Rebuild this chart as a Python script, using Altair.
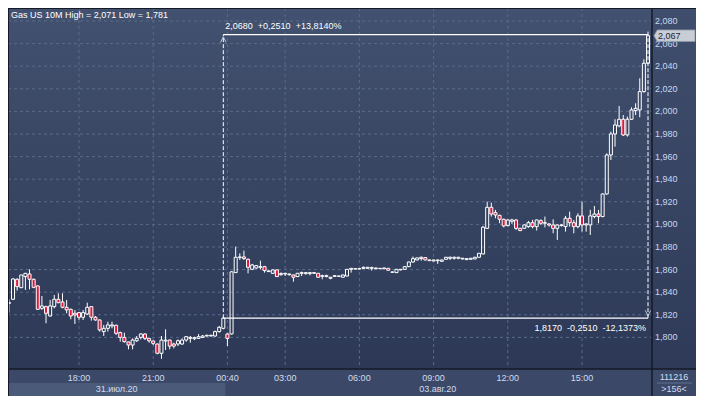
import altair as alt
import pandas as pd

# ---------------- data (10-minute candles, index based x axis) ----------------
opens = [1.8300, 1.8337, 1.8514, 1.8440, 1.8538, 1.8561, 1.8514, 1.8455, 1.8257, 1.8272,
         1.8189, 1.8272, 1.8337, 1.8313, 1.8266, 1.8248, 1.8213, 1.8219, 1.8178, 1.8207,
         1.8272, 1.8178, 1.8154, 1.8051, 1.8080, 1.8101, 1.8107, 1.8042, 1.8000, 1.7959,
         1.7932, 1.7970, 1.8000, 1.8030, 1.7991, 1.7968, 1.7941, 1.7859, 1.7968, 1.7976,
         1.7941, 1.7941, 1.7941, 1.7976, 1.7991, 1.7988, 1.7991, 1.8000, 1.8012, 1.8012,
         1.8012, 1.8051, 1.8080, 1.8030, 1.8030, 1.8573, 1.8706, 1.8712, 1.8691, 1.8602,
         1.8614, 1.8620, 1.8626, 1.8582, 1.8567, 1.8597, 1.8555, 1.8561, 1.8555, 1.8552,
         1.8538, 1.8567, 1.8564, 1.8564, 1.8567, 1.8567, 1.8540, 1.8538, 1.8532, 1.8540,
         1.8540, 1.8532, 1.8543, 1.8602, 1.8605, 1.8605, 1.8611, 1.8611, 1.8611, 1.8608,
         1.8608, 1.8608, 1.8611, 1.8576, 1.8573, 1.8597, 1.8602, 1.8626, 1.8667, 1.8685,
         1.8697, 1.8706, 1.8679, 1.8676, 1.8679, 1.8673, 1.8691, 1.8700, 1.8700, 1.8700,
         1.8694, 1.8688, 1.8691, 1.8694, 1.8709, 1.8738, 1.8965, 1.9151, 1.9104, 1.9080,
         1.9045, 1.8989, 1.9027, 1.9039, 1.8965, 1.8965, 1.8980, 1.9015, 1.8980, 1.9033,
         1.9010, 1.9004, 1.8995, 1.8965, 1.8990, 1.8980, 1.9054, 1.9015, 1.8980, 1.9075,
         1.8995, 1.8995, 1.9069, 1.9092, 1.9069, 1.9269, 1.9614, 1.9800, 1.9871, 1.9930,
         1.9791, 1.9930, 2.0007, 2.0013, 2.0175, 2.0426]
highs = [1.8337, 1.8523, 1.8523, 1.8555, 1.8570, 1.8602, 1.8520, 1.8460, 1.8366, 1.8280,
         1.8331, 1.8375, 1.8390, 1.8390, 1.8331, 1.8255, 1.8243, 1.8225, 1.8243, 1.8307,
         1.8275, 1.8189, 1.8158, 1.8110, 1.8139, 1.8139, 1.8112, 1.8051, 1.8042, 1.7962,
         1.7991, 1.8012, 1.8036, 1.8036, 1.7994, 1.7970, 1.7945, 1.8012, 1.8071, 1.7980,
         1.7953, 1.7982, 1.7991, 1.8012, 1.8012, 1.8006, 1.8030, 1.8021, 1.8024, 1.8024,
         1.8060, 1.8101, 1.8184, 1.8036, 1.8585, 1.8803, 1.8744, 1.8768, 1.8697, 1.8650,
         1.8641, 1.8679, 1.8632, 1.8591, 1.8600, 1.8600, 1.8576, 1.8570, 1.8564, 1.8555,
         1.8570, 1.8582, 1.8576, 1.8579, 1.8576, 1.8570, 1.8555, 1.8555, 1.8535, 1.8552,
         1.8546, 1.8555, 1.8605, 1.8614, 1.8611, 1.8611, 1.8626, 1.8623, 1.8626, 1.8617,
         1.8614, 1.8617, 1.8614, 1.8582, 1.8605, 1.8605, 1.8629, 1.8670, 1.8715, 1.8706,
         1.8715, 1.8709, 1.8688, 1.8688, 1.8688, 1.8688, 1.8712, 1.8715, 1.8715, 1.8712,
         1.8703, 1.8700, 1.8703, 1.8712, 1.8747, 1.8986, 1.9201, 1.9192, 1.9128, 1.9085,
         1.9050, 1.9045, 1.9050, 1.9045, 1.8970, 1.9000, 1.9030, 1.9040, 1.9042, 1.9045,
         1.9069, 1.9010, 1.9045, 1.9000, 1.9004, 1.9075, 1.9113, 1.9039, 1.9098, 1.9201,
         1.9010, 1.9128, 1.9163, 1.9128, 1.9275, 1.9629, 1.9821, 1.9930, 2.0048, 1.9968,
         1.9954, 2.0036, 2.0072, 2.0293, 2.0461, 2.0706]
lows = [1.8219, 1.8331, 1.8414, 1.8435, 1.8420, 1.8425, 1.8435, 1.8243, 1.8243, 1.8125,
        1.8184, 1.8257, 1.8302, 1.8257, 1.8213, 1.8160, 1.8119, 1.8154, 1.8154, 1.8198,
        1.8148, 1.8148, 1.8051, 1.8012, 1.8051, 1.8080, 1.8021, 1.7962, 1.7953, 1.7894,
        1.7894, 1.7959, 1.7982, 1.7976, 1.7953, 1.7932, 1.7850, 1.7810, 1.7888, 1.7894,
        1.7903, 1.7923, 1.7932, 1.7962, 1.7953, 1.7976, 1.7988, 1.7994, 1.8009, 1.8009,
        1.8006, 1.8042, 1.8071, 1.7923, 1.8025, 1.8570, 1.8685, 1.8685, 1.8567, 1.8597,
        1.8608, 1.8602, 1.8573, 1.8582, 1.8561, 1.8535, 1.8546, 1.8543, 1.8546, 1.8493,
        1.8535, 1.8543, 1.8555, 1.8549, 1.8561, 1.8529, 1.8514, 1.8532, 1.8514, 1.8535,
        1.8537, 1.8532, 1.8540, 1.8573, 1.8602, 1.8602, 1.8605, 1.8608, 1.8591, 1.8602,
        1.8605, 1.8602, 1.8591, 1.8573, 1.8570, 1.8594, 1.8600, 1.8623, 1.8661, 1.8682,
        1.8679, 1.8682, 1.8676, 1.8673, 1.8650, 1.8670, 1.8688, 1.8685, 1.8688, 1.8691,
        1.8691, 1.8685, 1.8688, 1.8691, 1.8706, 1.8735, 1.8959, 1.9069, 1.9054, 1.9010,
        1.8974, 1.8983, 1.9004, 1.8951, 1.8940, 1.8960, 1.8970, 1.8965, 1.8945, 1.8995,
        1.8974, 1.8980, 1.8921, 1.8862, 1.8980, 1.8936, 1.8980, 1.8921, 1.8965, 1.8936,
        1.8936, 1.8906, 1.9054, 1.9010, 1.9063, 1.9263, 1.9570, 1.9688, 1.9859, 1.9782,
        1.9777, 1.9924, 1.9968, 1.9948, 2.0166, 2.0420]
closes = [1.8310, 1.8517, 1.8449, 1.8552, 1.8567, 1.8514, 1.8443, 1.8248, 1.8278, 1.8213,
          1.8278, 1.8337, 1.8307, 1.8266, 1.8243, 1.8189, 1.8198, 1.8178, 1.8219, 1.8266,
          1.8178, 1.8154, 1.8066, 1.8080, 1.8110, 1.8110, 1.8036, 1.8000, 1.7962, 1.7932,
          1.7976, 1.7991, 1.8030, 1.7991, 1.7970, 1.7947, 1.7859, 1.7976, 1.7976, 1.7923,
          1.7923, 1.7970, 1.7976, 1.8006, 1.8000, 1.7997, 1.8006, 1.8012, 1.8018, 1.8018,
          1.8051, 1.8089, 1.8170, 1.7991, 1.8580, 1.8709, 1.8712, 1.8697, 1.8620, 1.8641,
          1.8635, 1.8626, 1.8591, 1.8588, 1.8597, 1.8538, 1.8564, 1.8567, 1.8561, 1.8532,
          1.8567, 1.8573, 1.8573, 1.8573, 1.8573, 1.8532, 1.8546, 1.8546, 1.8523, 1.8546,
          1.8543, 1.8552, 1.8602, 1.8611, 1.8608, 1.8608, 1.8620, 1.8620, 1.8617, 1.8614,
          1.8611, 1.8614, 1.8594, 1.8579, 1.8602, 1.8602, 1.8626, 1.8667, 1.8697, 1.8703,
          1.8709, 1.8685, 1.8685, 1.8685, 1.8685, 1.8685, 1.8709, 1.8709, 1.8709, 1.8709,
          1.8700, 1.8697, 1.8700, 1.8709, 1.8744, 1.8975, 1.9151, 1.9092, 1.9083, 1.9045,
          1.8986, 1.9039, 1.9039, 1.8965, 1.8945, 1.8995, 1.9015, 1.8980, 1.9039, 1.9010,
          1.9015, 1.8995, 1.8965, 1.8995, 1.8995, 1.9054, 1.9015, 1.8980, 1.9075, 1.8995,
          1.9004, 1.9075, 1.9092, 1.9069, 1.9269, 1.9614, 1.9800, 1.9880, 1.9930, 1.9791,
          1.9930, 2.0013, 2.0027, 2.0175, 2.0426, 2.0670]

time_idx = [17, 35, 53, 67, 85, 103, 121, 139]
time_text = ["18:00", "21:00", "00:40", "03:00", "06:00", "09:00", "12:00", "15:00"]
day_text = ["31.июл.20", "03.авг.20"]
day_first_idx = [0, 53]
day_last_idx = [52, 155]
price_ticks = [1.80, 1.82, 1.84, 1.86, 1.88, 1.90, 1.92, 1.94, 1.96, 1.98,
               2.00, 2.02, 2.04, 2.06, 2.08]
price_text = ["1,800", "1,820", "1,840", "1,860", "1,880", "1,900", "1,920", "1,940",
              "1,960", "1,980", "2,000", "2,020", "2,040", "2,060", "2,080"]
title_text = "Gas US 10M High = 2,071 Low = 1,781"
measure_from_idx, measure_to_idx = 52, 155
measure_low, measure_high = 1.8170, 2.0680
measure_up_parts = ["2,0680", "+0,2510", "+13,8140%"]
measure_dn_parts = ["1,8170", "-0,2510", "-12,1373%"]
last_price, last_text = 2.067, "2,067"
volume_text, bars_text = "111216", ">156<"

# ---------------- layout ----------------
W, H = 644, 361
RP, BP = 44, 27
X_DOM = [-0.22, 155.97]
Y_DOM = [1.7720, 2.0915]
xs = alt.Scale(domain=X_DOM, nice=False, zero=False, padding=0)
ys = alt.Scale(domain=Y_DOM, nice=False, zero=False, padding=0)
FONT = "Liberation Sans"
FS = 9
GAP = "\u00a0\u00a0"

n = len(opens)
df = pd.DataFrame({"i": list(range(n)), "o": opens, "h": highs, "l": lows, "c": closes})
df["top"] = df[["o", "c"]].max(axis=1)
df["bot"] = df[["o", "c"]].min(axis=1)

one = alt.Data(values=[{"k": 1}])


def grad(c0, c1):
    return alt.Gradient(gradient="linear", x1=0, x2=0, y1=0, y2=1,
                        stops=[alt.GradientStop(offset=0, color=c0),
                               alt.GradientStop(offset=1, color=c1)])


plot_bg = alt.Chart(one).mark_rect(color=grad("#42516f", "#2c3856")).encode(
    x=alt.value(0), x2=alt.value(W), y=alt.value(0), y2=alt.value(H))
panel_bg = alt.Chart(one).mark_rect(color=grad("#404e6d", "#2e3a58")).encode(
    x=alt.value(W), x2=alt.value(W + RP), y=alt.value(0), y2=alt.value(H))
strip_bg = alt.Chart(one).mark_rect(color="#3b4868").encode(
    x=alt.value(0), x2=alt.value(W + RP), y=alt.value(H), y2=alt.value(H + BP))

days = pd.DataFrame({"t": day_text, "a": day_first_idx, "b": day_last_idx})
days["s"] = [max(X_DOM[0], a - 0.5) for a in days["a"]]
days["e"] = [min(X_DOM[1], b + 0.5) for b in days["b"]]
days["m"] = (days["s"] + days["e"]) / 2
band = alt.Chart(days.iloc[[0]]).mark_rect(color="#4b5a79").encode(
    x=alt.X("s:Q", scale=xs, axis=None), x2="e:Q",
    y=alt.value(H + 14), y2=alt.value(H + BP))

hgrid = alt.Chart(pd.DataFrame({"p": price_ticks})).mark_rule(
    color="#5a6a8a", strokeWidth=1, strokeDash=[3, 3]).encode(
    y=alt.Y("p:Q", scale=ys, axis=None), x=alt.value(0), x2=alt.value(W))
vgrid = alt.Chart(pd.DataFrame({"i": time_idx})).mark_rule(
    color="#5a6a8a", strokeWidth=1, strokeDash=[3, 3]).encode(
    x=alt.X("i:Q", scale=xs, axis=None), y=alt.value(0), y2=alt.value(H))

wick_hi = alt.Chart(df).mark_rule(color="white", strokeWidth=1).encode(
    x=alt.X("i:Q", scale=xs, axis=None), y=alt.Y("h:Q", scale=ys, axis=None), y2="top:Q")
wick_lo = alt.Chart(df).mark_rule(color="white", strokeWidth=1).encode(
    x=alt.X("i:Q", scale=xs, axis=None), y=alt.Y("bot:Q", scale=ys, axis=None), y2="l:Q")
body = alt.Chart(df).mark_bar(size=3, stroke="white", strokeWidth=1).encode(
    x=alt.X("i:Q", scale=xs, axis=None),
    y=alt.Y("top:Q", scale=ys, axis=None), y2="bot:Q",
    fill=alt.condition("datum.c < datum.o", alt.value("#e3163c"), alt.value("transparent")))

mdf = pd.DataFrame({"x0": [measure_from_idx], "x1": [measure_to_idx],
                    "lo": [measure_low], "hi": [measure_high]})
m_v0 = alt.Chart(mdf).mark_rule(color="white", strokeWidth=1, strokeDash=[4, 2]).encode(
    x=alt.X("x0:Q", scale=xs, axis=None), y=alt.Y("lo:Q", scale=ys, axis=None), y2="hi:Q")
m_v1 = alt.Chart(mdf).mark_rule(color="white", strokeWidth=1, strokeDash=[4, 2]).encode(
    x=alt.X("x1:Q", scale=xs, axis=None), y=alt.Y("lo:Q", scale=ys, axis=None), y2="hi:Q")
m_h0 = alt.Chart(mdf).mark_rule(color="white", strokeWidth=1.2).encode(
    x=alt.X("x0:Q", scale=xs, axis=None), x2="x1:Q", y=alt.Y("hi:Q", scale=ys, axis=None))
m_h1 = alt.Chart(mdf).mark_rule(color="white", strokeWidth=1.2).encode(
    x=alt.X("x0:Q", scale=xs, axis=None), x2="x1:Q", y=alt.Y("lo:Q", scale=ys, axis=None))
arrow_up = alt.Chart(mdf).mark_point(shape="M -1 1 L 0 -1 L 1 1", filled=False,
                                     color="white", strokeWidth=1, size=30, yOffset=5).encode(
    x=alt.X("x0:Q", scale=xs, axis=None), y=alt.Y("hi:Q", scale=ys, axis=None))
arrow_dn = alt.Chart(mdf).mark_point(shape="M -1 -1 L 0 1 L 1 -1", filled=False,
                                     color="white", strokeWidth=1, size=30, yOffset=-5).encode(
    x=alt.X("x1:Q", scale=xs, axis=None), y=alt.Y("lo:Q", scale=ys, axis=None))
m_t0 = alt.Chart(mdf).mark_text(align="left", baseline="middle", dx=2, dy=-9,
                                color="white", font=FONT, fontSize=FS).encode(
    x=alt.X("x0:Q", scale=xs, axis=None), y=alt.Y("hi:Q", scale=ys, axis=None),
    text=alt.value(GAP.join(measure_up_parts)))
m_t1 = alt.Chart(mdf).mark_text(align="right", baseline="middle", dx=-2, dy=10,
                                color="white", font=FONT, fontSize=FS).encode(
    x=alt.X("x1:Q", scale=xs, axis=None), y=alt.Y("lo:Q", scale=ys, axis=None),
    text=alt.value(GAP.join(measure_dn_parts)))

ylab = alt.Chart(pd.DataFrame({"p": price_ticks, "t": price_text})).mark_text(
    align="left", baseline="middle", color="#c9d8ef", font=FONT, fontSize=FS).encode(
    x=alt.value(W + 3), y=alt.Y("p:Q", scale=ys, axis=None), text="t:N")

pdf = pd.DataFrame({"p": [last_price], "t": [last_text]})
pbox = alt.Chart(pdf).mark_point(
    shape="M -1 0 L -0.84 -0.28 L 1 -0.28 L 1 0.28 L -0.84 0.28 Z",
    filled=True, fill="#c8cdd6", stroke="#8e98aa", strokeWidth=0.8, size=1681, opacity=1).encode(
    x=alt.value(W + 22.5), y=alt.Y("p:Q", scale=ys, axis=None))
ptext = alt.Chart(pdf).mark_text(align="left", baseline="middle", color="#1c2333",
                                 font=FONT, fontSize=FS).encode(
    x=alt.value(W + 6), y=alt.Y("p:Q", scale=ys, axis=None), text="t:N")

xlab = alt.Chart(pd.DataFrame({"i": time_idx, "t": time_text})).mark_text(
    align="center", baseline="middle", color="#d2dcec", font=FONT, fontSize=FS).encode(
    x=alt.X("i:Q", scale=xs, axis=None), y=alt.value(H + 8.5), text="t:N")
dlab = alt.Chart(days).mark_text(
    align="center", baseline="middle", color="#d2dcec", font=FONT, fontSize=FS).encode(
    x=alt.X("m:Q", scale=xs, axis=None), y=alt.value(H + 20), text="t:N")

title = alt.Chart(one).mark_text(align="left", baseline="middle", color="white",
                                 font=FONT, fontSize=FS).encode(
    x=alt.value(3), y=alt.value(7), text=alt.value(title_text))

info_top = alt.Chart(one).mark_text(
    align="center", baseline="middle", color="#d2dcec", font=FONT, fontSize=FS).encode(
    x=alt.value(W + 22), y=alt.value(H + 8), text=alt.value(volume_text))
info_bot = alt.Chart(one).mark_text(
    align="center", baseline="middle", color="#d2dcec", font=FONT, fontSize=FS).encode(
    x=alt.value(W + 22), y=alt.value(H + 20), text=alt.value(bars_text))
info_sep = alt.Chart(one).mark_rule(color="#62708e", strokeWidth=1).encode(
    x=alt.value(W + 5), x2=alt.value(W + 40), y=alt.value(H + 14))

border_c = "#141a26"
b_top = alt.Chart(one).mark_rule(color=border_c, strokeWidth=1).encode(
    x=alt.value(0), x2=alt.value(W + RP), y=alt.value(0.5))
b_left = alt.Chart(one).mark_rule(color=border_c, strokeWidth=1).encode(
    x=alt.value(0.5), y=alt.value(0), y2=alt.value(H + BP))
b_bot = alt.Chart(one).mark_rule(color=border_c, strokeWidth=1.5).encode(
    x=alt.value(0), x2=alt.value(W + RP), y=alt.value(H))
b_sep = alt.Chart(one).mark_rule(color=border_c, strokeWidth=1.5).encode(
    x=alt.value(W), y=alt.value(0), y2=alt.value(H + BP))

chart = alt.layer(
    plot_bg, panel_bg, strip_bg, band, hgrid, vgrid,
    wick_hi, wick_lo, body,
    m_v0, m_v1, m_h0, m_h1, arrow_up, arrow_dn, m_t0, m_t1,
    ylab, pbox, ptext, xlab, dlab, title, info_top, info_bot, info_sep,
    b_top, b_left, b_bot, b_sep,
).properties(
    width=W, height=H,
    autosize=alt.AutoSizeParams(type="none"),
    padding={"left": 0, "top": 0, "right": RP, "bottom": BP},
    background="#36435f",
).configure_view(strokeWidth=0)

chart.save("out.html", embed_options={"renderer": "svg", "actions": False})
